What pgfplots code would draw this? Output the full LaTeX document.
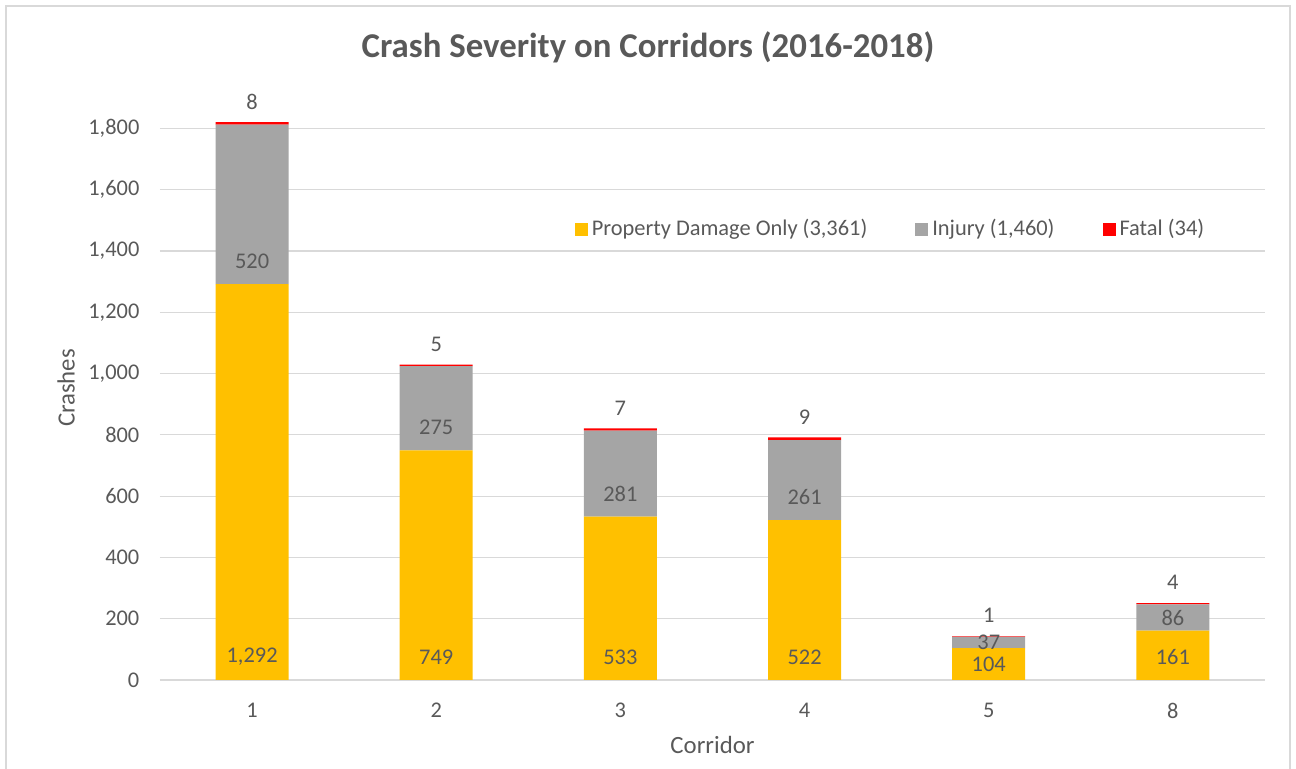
\documentclass[border=0pt]{standalone}
\usepackage{pgfplots}
\pgfplotsset{compat=1.18}
\usepackage{fontspec}
\setmainfont{Carlito}
\definecolor{pdo}{HTML}{FFC000}
\definecolor{inj}{HTML}{A5A5A5}
\definecolor{fat}{HTML}{FF0000}
\definecolor{txt}{HTML}{595959}
\definecolor{gridgray}{HTML}{D9D9D9}
\pgfkeys{/pgf/number format/.cd,1000 sep={,},assume math mode=true}
\begin{document}
\begin{tikzpicture}
\useasboundingbox (-80pt,-44.5pt) rectangle (568pt,340pt);
\draw[gridgray, line width=0.8pt] (-77pt,-44.5pt) -- (-77pt,337pt) -- (565pt,337pt) -- (565pt,-44.5pt);
\begin{axis}[
  at={(0pt,0pt)}, anchor=south west,
  width=552.5pt, height=283.5pt, scale only axis,
  ymin=0, ymax=1850, xmin=-0.5, xmax=5.5,
  ybar stacked, bar width=36.5pt,
  xtick={0,...,5}, xticklabels={1,2,3,4,5,8},
  ytick={0,200,...,1800},
  ymajorgrids, grid style={draw=gridgray, line width=0.6pt},
  axis x line=bottom, axis y line=left,
  y axis line style={draw=none},
  x axis line style={draw=gridgray, line width=0.9pt, -},
  major tick length=0pt,
  /pgf/number format/assume math mode=true,
  tick label style={font=\fontsize{11.2}{13.5}\selectfont, text=txt},
  yticklabel style={xshift=-6.8pt},
  xticklabel style={yshift=-8pt},
  ylabel={Crashes}, xlabel={Corridor},
  label style={font=\fontsize{12.4}{15}\selectfont, text=txt},
  ylabel style={at={(axis description cs:-0.085,0.515)}, anchor=center, rotate=0},
  xlabel style={at={(axis description cs:0.5,-0.1146)}, anchor=center},
  legend columns=3,
  legend style={at={(axis description cs:0.662,0.795)}, anchor=center, draw=none, fill=none,
    font=\fontsize{11.2}{13.5}\selectfont, text=txt,
    /tikz/every even column/.append style={column sep=22pt},
    nodes={inner xsep=2pt}},
  legend image code/.code={\fill[#1] (0pt,-3.25pt) rectangle (6.5pt,3.25pt);},
  nodes near coords style={font=\fontsize{11.2}{13.5}\selectfont, text=txt},
]
\addplot[fill=pdo, draw=none, nodes near coords, point meta=rawy,
  visualization depends on={rawy \as \ry},
  every node near coord/.append style={anchor=center, yshift={(-\ry*0.0766215 + min(11.5,\ry*0.0766215))*1pt}}]
  coordinates {(0,1292) (1,749) (2,533) (3,522) (4,104) (5,161)};
\addlegendentry{Property Damage Only (3,361)}
\addplot[fill=inj, draw=none, nodes near coords, point meta=rawy,
  visualization depends on={rawy \as \ry},
  every node near coord/.append style={anchor=center, yshift={(-\ry*0.0766215 + min(11.5,\ry*0.0766215))*1pt}}]
  coordinates {(0,520) (1,275) (2,281) (3,261) (4,37) (5,86)};
\addlegendentry{Injury (1,460)}
\addplot[fill=fat, draw=none, nodes near coords, point meta=rawy,
  every node near coord/.append style={anchor=center, yshift=10.5pt}]
  coordinates {(0,8) (1,5) (2,7) (3,9) (4,1) (5,4)};
\addlegendentry{Fatal (34)}
\end{axis}
\node[font=\bfseries\fontsize{17.4}{21}\selectfont, text=txt] at (244pt,316.5pt) {Crash Severity on Corridors (2016-2018)};
\end{tikzpicture}
\end{document}
